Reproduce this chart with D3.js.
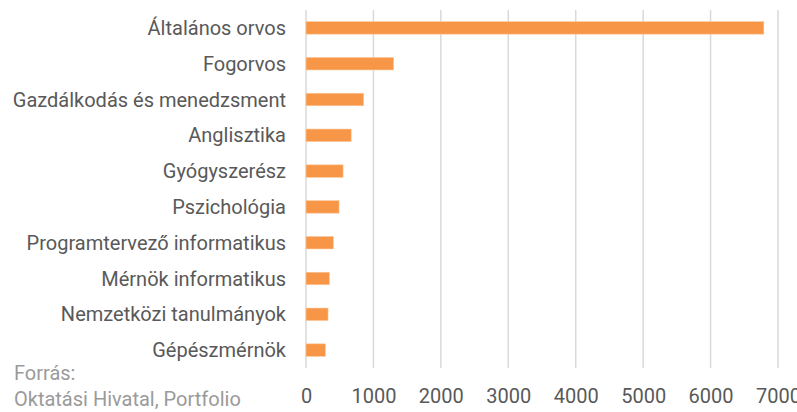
<!DOCTYPE html>
<html>
<head>
<meta charset="utf-8">
<script src="https://cdn.jsdelivr.net/npm/d3@7"></script>
<style>
  body { margin: 0; background: #fff; }
  svg text { font-family: Roboto, "Noto Sans", sans-serif; }
</style>
</head>
<body>
<div id="chart"></div>
<script>
// --- Data ---
const categories = [
  "Általános orvos",
  "Fogorvos",
  "Gazdálkodás és menedzsment",
  "Anglisztika",
  "Gyógyszerész",
  "Pszichológia",
  "Programtervező informatikus",
  "Mérnök informatikus",
  "Nemzetközi tanulmányok",
  "Gépészmérnök"
];
const values = [6790, 1300, 855, 670, 550, 490, 406, 347, 327, 288];
const xTicks = [0, 1000, 2000, 3000, 4000, 5000, 6000, 7000];
const sourceLines = ["Forrás:", "Oktatási Hivatal, Portfolio"];

// --- Layout ---
const WIDTH = 797;
const HEIGHT = 412;
const PLOT = { left: 306, right: 778, top: 10, bottom: 368 };
const FONT_SIZE = 20;
const BAR_COLOR = "#f79646";
const GRID_COLOR = "#d9d9d9";
const TEXT_COLOR = "#595959";

const svg = d3.select("#chart")
  .append("svg")
  .attr("width", WIDTH)
  .attr("height", HEIGHT);

const x = d3.scaleLinear()
  .domain([0, 7000])
  .range([PLOT.left, PLOT.right]);

const y = d3.scaleBand()
  .domain(categories)
  .range([PLOT.top, PLOT.bottom])
  .paddingInner(0.65)
  .paddingOuter(0.325);

// gridlines
svg.append("g")
  .selectAll("line")
  .data(xTicks)
  .join("line")
  .attr("x1", d => x(d))
  .attr("x2", d => x(d))
  .attr("y1", PLOT.top)
  .attr("y2", PLOT.bottom)
  .attr("stroke", GRID_COLOR)
  .attr("stroke-width", 1.5);

// bars
svg.append("g")
  .selectAll("rect")
  .data(values)
  .join("rect")
  .attr("x", x(0))
  .attr("y", (d, i) => y(categories[i]))
  .attr("width", d => x(d) - x(0))
  .attr("height", y.bandwidth())
  .attr("fill", BAR_COLOR)
  .attr("stroke", "#fbc9a0")
  .attr("stroke-width", 0.6);

// category labels
svg.append("g")
  .selectAll("text")
  .data(categories)
  .join("text")
  .attr("x", 286)
  .attr("y", d => y(d) + y.bandwidth() / 2)
  .attr("dy", "0.35em")
  .attr("text-anchor", "end")
  .attr("font-size", FONT_SIZE)
  .attr("fill", TEXT_COLOR)
  .text(d => d);

// x tick labels
const xAxis = d3.axisBottom(x).tickValues(xTicks).tickSize(0).tickPadding(0).tickFormat(d3.format("d"));
const axisG = svg.append("g")
  .attr("transform", `translate(0, ${PLOT.bottom})`)
  .call(xAxis);
axisG.select(".domain").remove();
axisG.selectAll("text")
  .attr("y", 27.5)
  .attr("dy", "0.35em")
  .attr("font-size", FONT_SIZE)
  .attr("font-family", "Roboto, sans-serif")
  .attr("fill", TEXT_COLOR);

// source
svg.append("g")
  .selectAll("text")
  .data(sourceLines)
  .join("text")
  .attr("x", 14)
  .attr("y", (d, i) => 380 + i * 26)
  .attr("font-size", FONT_SIZE)
  .attr("fill", "#9a9a9a")
  .text(d => d);
</script>
</body>
</html>
